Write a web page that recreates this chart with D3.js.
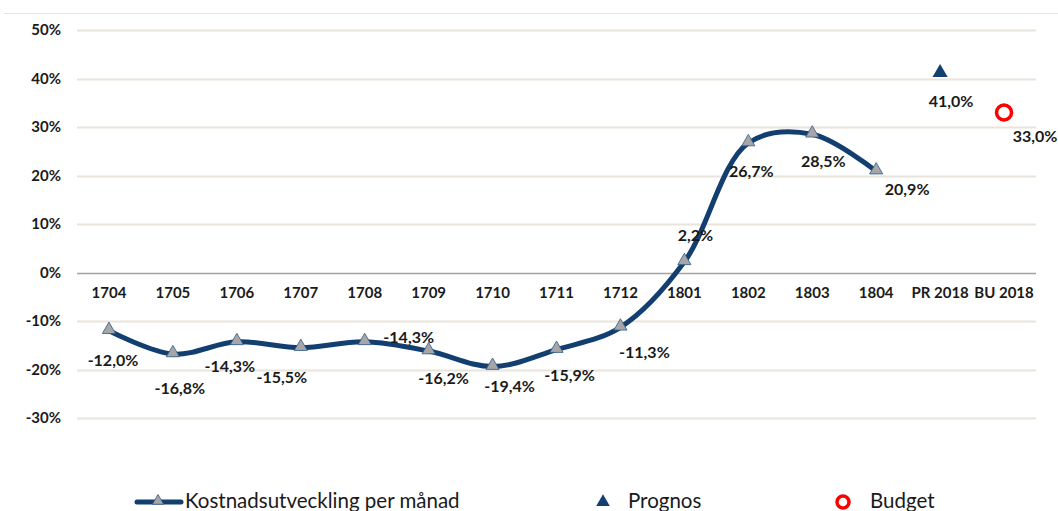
<!DOCTYPE html>
<html>
<head>
<meta charset="utf-8">
<script src="https://cdn.jsdelivr.net/npm/d3@7"></script>
<style>
  body { margin: 0; background: #fff; }
  text { font-family: Lato, "Open Sans", sans-serif; fill: #1a1a1a; }
</style>
</head>
<body>
<div class="report"></div>
<script>
// categories and values (percent)
var categories = ["1704", "1705", "1706", "1707", "1708", "1709", "1710", "1711", "1712",
                  "1801", "1802", "1803", "1804", "PR 2018", "BU 2018"];
var lineCats = categories.slice(0, 13);
var lineValues = [-12.0, -16.8, -14.3, -15.5, -14.3, -16.2, -19.4, -15.9, -11.3, 2.2, 26.7, 28.5, 20.9];
var prognos = [{cat: "PR 2018", value: 41.0}];
var budget = [{cat: "BU 2018", value: 33.0}];
var yTicks = [50, 40, 30, 20, 10, 0, -10, -20, -30];

// hand placed data label offsets (dx, dy) like in the original
var lineLabelOffsets = [[4, 30], [7, 34], [-7, 25], [-19, 30], [44, -4], [15, 27], [17, 20],
                        [13, 26], [24, 25], [11, -26], [3, 28], [11, 27], [31, 18]];
var prognosLabelOffset = [11, 28];
var budgetLabelOffset = [31, 24];

var width = 1058, height = 511;
var navy = "#123f70";

var svg = d3.select(".report").append("svg")
    .attr("width", width).attr("height", height);

var x = d3.scaleBand().domain(categories).range([77, 1036]);
var y = d3.scaleLinear().domain([-30, 50]).range([418, 30]);
var cx = function (c) { return x(c) + x.bandwidth() / 2; };
var fmt = function (v) { return v.toFixed(1).replace(".", ",") + "%"; };

// top frame line
svg.append("line")
    .attr("x1", 4).attr("x2", width).attr("y1", 13.5).attr("y2", 13.5)
    .attr("stroke", "#e4e4e4").attr("stroke-width", 1);

// gridlines
svg.append("g").selectAll("line")
    .data(yTicks.filter(function (d) { return d !== 0; }))
    .enter().append("line")
    .attr("x1", 77).attr("x2", 1036)
    .attr("y1", function (d) { return Math.round(y(d)) + 0.5; })
    .attr("y2", function (d) { return Math.round(y(d)) + 0.5; })
    .attr("stroke", "#e9e4dc").attr("stroke-width", 2);

// zero axis line
svg.append("line")
    .attr("x1", 77).attr("x2", 1036)
    .attr("y1", Math.round(y(0)) + 0.5).attr("y2", Math.round(y(0)) + 0.5)
    .attr("stroke", "#a3a3a3").attr("stroke-width", 1.5);

// y axis labels
var yAxis = svg.append("g")
    .attr("transform", "translate(61,0)")
    .call(d3.axisLeft(y).tickValues(yTicks).tickSize(0).tickPadding(0)
        .tickFormat(function (d) { return d + "%"; }));
yAxis.select(".domain").remove();
yAxis.selectAll("text")
    .style("font-family", "Lato, sans-serif")
    .style("font-size", "15px").style("font-weight", "bold").attr("fill", "#1a1a1a");

// x category labels along zero line
var xAxis = svg.append("g")
    .attr("transform", "translate(0,287)")
    .call(d3.axisBottom(x).tickSize(0).tickPadding(0));
xAxis.select(".domain").remove();
xAxis.selectAll("text")
    .style("font-family", "Lato, sans-serif")
    .style("font-size", "15px").style("font-weight", "bold").attr("fill", "#1a1a1a");

// smoothed line
var lineData = lineCats.map(function (c, i) { return {cat: c, value: lineValues[i]}; });
var line = d3.line()
    .x(function (d) { return cx(d.cat); })
    .y(function (d) { return y(d.value); })
    .curve(d3.curveCatmullRom.alpha(0.5));

svg.append("path")
    .datum(lineData)
    .attr("d", line)
    .attr("fill", "none")
    .attr("stroke", navy)
    .attr("stroke-width", 5)
    .attr("stroke-linecap", "round");

var tri = d3.symbol().type(d3.symbolTriangle);

svg.append("g").selectAll("path")
    .data(lineData)
    .enter().append("path")
    .attr("d", tri.size(75)())
    .attr("transform", function (d) { return "translate(" + cx(d.cat) + "," + (y(d.value) - 1) + ")"; })
    .attr("fill", "#a6a6a6")
    .attr("stroke", "#2f5b8a")
    .attr("stroke-width", 0.8);

// line data labels
svg.append("g").selectAll("text")
    .data(lineData)
    .enter().append("text")
    .attr("x", function (d, i) { return cx(d.cat) + lineLabelOffsets[i][0]; })
    .attr("y", function (d, i) { return y(d.value) + lineLabelOffsets[i][1]; })
    .attr("dy", "0.35em")
    .attr("text-anchor", "middle")
    .style("font-size", "16px").style("font-weight", "bold")
    .text(function (d) { return fmt(d.value); });

// prognos
svg.append("g").selectAll("path")
    .data(prognos)
    .enter().append("path")
    .attr("d", tri.size(100)())
    .attr("transform", function (d) { return "translate(" + cx(d.cat) + "," + (y(d.value) - 1) + ")"; })
    .attr("fill", navy);
svg.append("g").selectAll("text")
    .data(prognos)
    .enter().append("text")
    .attr("x", function (d) { return cx(d.cat) + prognosLabelOffset[0]; })
    .attr("y", function (d) { return y(d.value) + prognosLabelOffset[1]; })
    .attr("dy", "0.35em").attr("text-anchor", "middle")
    .style("font-size", "16px").style("font-weight", "bold")
    .text(function (d) { return fmt(d.value); });

// budget
svg.append("g").selectAll("circle")
    .data(budget)
    .enter().append("circle")
    .attr("cx", function (d) { return cx(d.cat); })
    .attr("cy", function (d) { return y(d.value); })
    .attr("r", 7.5)
    .attr("fill", "#fff")
    .attr("stroke", "#ff0000")
    .attr("stroke-width", 3.5);
svg.append("g").selectAll("text")
    .data(budget)
    .enter().append("text")
    .attr("x", function (d) { return cx(d.cat) + budgetLabelOffset[0]; })
    .attr("y", function (d) { return y(d.value) + budgetLabelOffset[1]; })
    .attr("dy", "0.35em").attr("text-anchor", "middle")
    .style("font-size", "16px").style("font-weight", "bold")
    .text(function (d) { return fmt(d.value); });

// legend
var legend = svg.append("g").attr("class", "legend");
var ly = 502;
legend.append("line")
    .attr("x1", 137).attr("x2", 181).attr("y1", ly).attr("y2", ly)
    .attr("stroke", navy).attr("stroke-width", 5).attr("stroke-linecap", "round");
legend.append("path")
    .attr("d", tri.size(55)())
    .attr("transform", "translate(158," + (ly - 1) + ")")
    .attr("fill", "#a6a6a6").attr("stroke", "#2f5b8a").attr("stroke-width", 0.8);
legend.append("text")
    .attr("x", 185).attr("y", 508)
    .style("font-size", "20.5px")
    .text("Kostnadsutveckling per månad");

legend.append("path")
    .attr("d", tri.size(80)())
    .attr("transform", "translate(603," + ly + ")")
    .attr("fill", navy);
legend.append("text")
    .attr("x", 628).attr("y", 508)
    .style("font-size", "20.5px")
    .text("Prognos");

legend.append("circle")
    .attr("cx", 843).attr("cy", ly).attr("r", 6)
    .attr("fill", "#fff").attr("stroke", "#ff0000").attr("stroke-width", 3.5);
legend.append("text")
    .attr("x", 870).attr("y", 508)
    .style("font-size", "20.5px")
    .text("Budget");
</script>
</body>
</html>
